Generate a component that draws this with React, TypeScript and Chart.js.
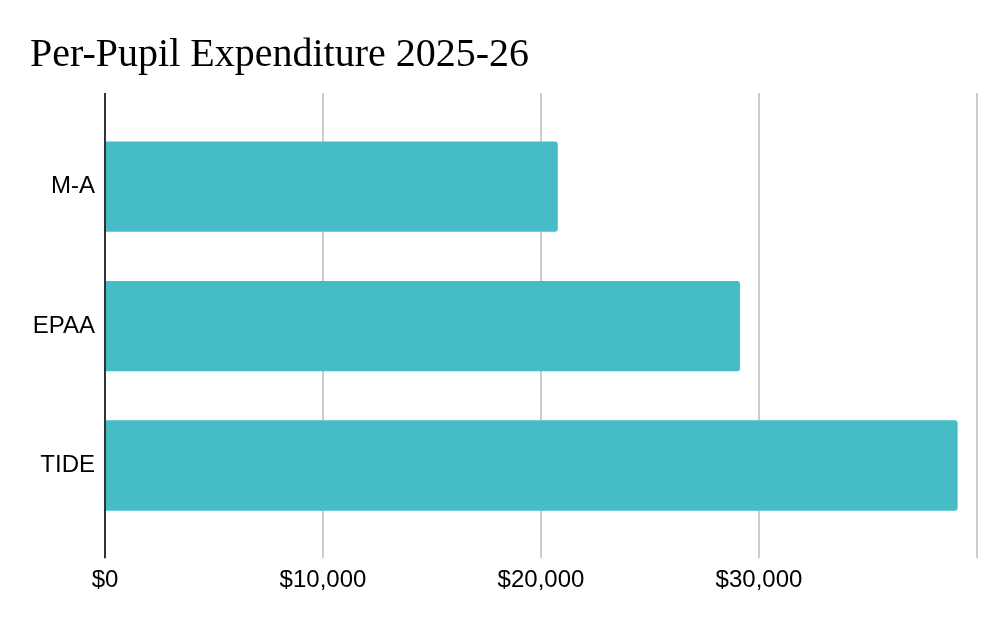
import React, { useEffect, useRef } from "react";
import { Chart, registerables } from "chart.js";

Chart.register(...registerables);

const TITLE = "Per-Pupil Expenditure 2025-26";
const categories = ["M-A", "EPAA", "TIDE"];
const expenditure = [20770, 29130, 39110];
const axisMin = 0;
const axisMax = 40000;
const axisStep = 10000;

const fmt = (v: number) => "$" + Number(v).toLocaleString("en-US");

export default function App() {
  const ref = useRef<HTMLCanvasElement | null>(null);
  useEffect(() => {
    if (!ref.current) return;
    const labelFont = { family: "'Liberation Sans', Arial, sans-serif", size: 24 };
    const gridColor = (ctx: any) => (ctx.tick && ctx.tick.value === 0 ? "#333333" : "#cccccc");
    const chart = new Chart(ref.current, {
      type: "bar",
      data: {
        labels: categories,
        datasets: [
          {
            label: "Per-Pupil Expenditure",
            data: expenditure,
            backgroundColor: "#46bdc6",
            borderWidth: 0,
            borderRadius: 3,
            categoryPercentage: 0.8,
            barPercentage: 0.81,
            xAxisID: "x",
          },
        ],
      },
      options: {
        indexAxis: "y",
        animation: false,
        responsive: true,
        maintainAspectRatio: false,
        layout: { padding: { left: 30, right: 31, top: 0, bottom: 21 } },
        plugins: {
          legend: { display: false },
          tooltip: { enabled: false },
          title: {
            display: true,
            text: TITLE,
            align: "start",
            color: "#000000",
            font: { family: "'Liberation Serif', 'Times New Roman', serif", size: 40, weight: "normal", lineHeight: 1.2 },
            padding: { top: 31, bottom: 14 },
          },
        },
        scales: {
          x: {
            type: "linear",
            position: "bottom",
            min: axisMin,
            max: axisMax,
            border: { display: false },
            grid: { color: gridColor, lineWidth: 2, drawTicks: true, tickLength: 23 },
            ticks: {
              stepSize: axisStep,
              color: "#000000",
              font: labelFont,
              padding: 8,
              maxRotation: 0,
              callback: (v: any) => (Number(v) === axisMax ? "" : fmt(Number(v))),
            },
          },
          x2: {
            type: "linear",
            position: "top",
            min: axisMin,
            max: axisMax,
            border: { display: false },
            grid: { color: gridColor, lineWidth: 2, drawOnChartArea: false, drawTicks: true, tickLength: 24 },
            ticks: { stepSize: axisStep, display: false },
          },
          y: {
            type: "category",
            border: { display: false },
            grid: { display: false, drawTicks: false },
            ticks: { color: "#000000", font: labelFont, padding: 10 },
            afterFit: (scale: any) => {
              scale.width = 75;
            },
          },
        },
      },
    });
    return () => chart.destroy();
  }, []);
  return (
    <div style={{ position: "absolute", left: 0, top: 0, width: 1008, height: 624, background: "#ffffff" }}>
      <canvas ref={ref} />
    </div>
  );
}
